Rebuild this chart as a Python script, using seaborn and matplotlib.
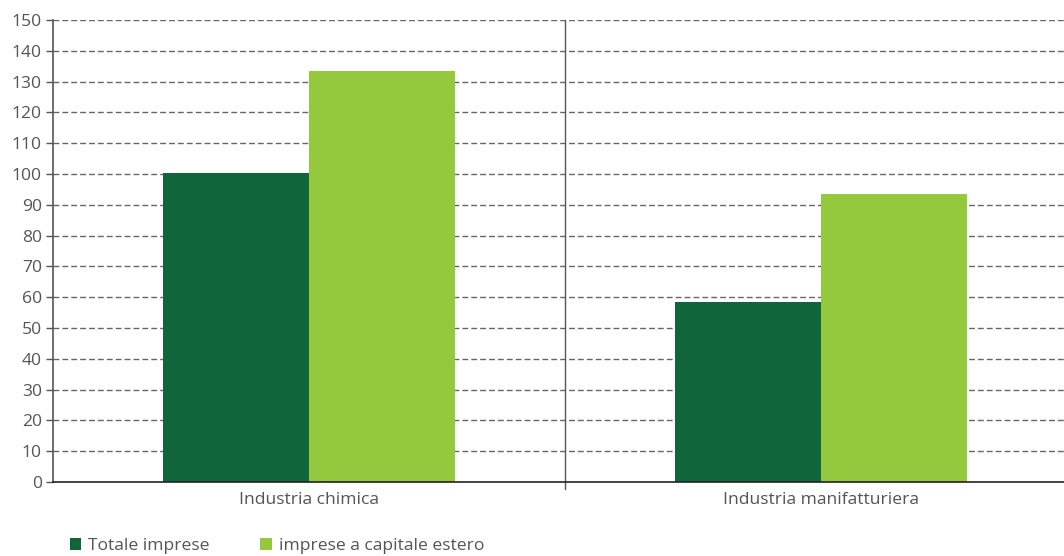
import matplotlib
matplotlib.use("Agg")
import matplotlib.pyplot as plt
from matplotlib.patches import Patch
import seaborn as sns
import pandas as pd

# Dati
categorie = ["Industria chimica", "Industria manifatturiera"]
serie = ["Totale imprese", "imprese a capitale estero"]
totale_imprese = [100.2, 58.4]
capitale_estero = [133.6, 93.4]
y_ticks = list(range(0, 151, 10))

colori = ["#10663A", "#95C93D"]

df = pd.DataFrame({
    "categoria": categorie * 2,
    "serie": [serie[0]] * 2 + [serie[1]] * 2,
    "valore": totale_imprese + capitale_estero,
})

sns.set_style("white")
plt.rcParams["font.family"] = ["Open Sans", "DejaVu Sans"]

fs = 12.6

fig = plt.figure(figsize=(10.64, 5.56), dpi=100)
ax = fig.add_axes([53 / 1064, 74 / 556, 1024 / 1064, 462 / 556])

sns.barplot(data=df, x="categoria", y="valore", hue="serie", palette=colori,
            width=0.57, dodge=True, ax=ax, legend=False, saturation=1,
            edgecolor="none", linewidth=0)

ax.set_ylim(0, 150)
ax.set_xlim(-0.5, 1.5)
ax.set_yticks(y_ticks)
ax.set_yticklabels([str(t) for t in y_ticks], fontsize=fs, color="#555555")
ax.tick_params(axis="y", length=5, width=1, color="#555555", pad=3, left=True)
ax.tick_params(axis="x", length=0, pad=7, labelsize=fs, labelcolor="#555555")
ax.set_xlabel("")
ax.set_ylabel("")

# griglia tratteggiata orizzontale
for t in y_ticks[1:]:
    ax.axhline(t, color="#666666", linewidth=1.0, linestyle=(0, (4.2, 2.2)), zorder=0)

for s in ["top", "right"]:
    ax.spines[s].set_visible(False)
ax.spines["left"].set_color("#555555")
ax.spines["left"].set_linewidth(1.2)
ax.spines["bottom"].set_color("#222222")
ax.spines["bottom"].set_linewidth(1.2)

# separatore tra categorie
ax.axvline(0.5, ymin=-0.015, ymax=1, color="#555555", linewidth=1.0, clip_on=False, zorder=1)

handles = [Patch(facecolor=c, edgecolor="none") for c in colori]
fig.legend(handles, serie, loc="center left", bbox_to_anchor=(0.0593, 0.018),
           ncol=2, frameon=False, fontsize=fs, handlelength=0.65, handleheight=0.65,
           handletextpad=0.4, columnspacing=2.88, labelcolor="#555555", borderaxespad=0)

fig.savefig("out.png", dpi=100)
